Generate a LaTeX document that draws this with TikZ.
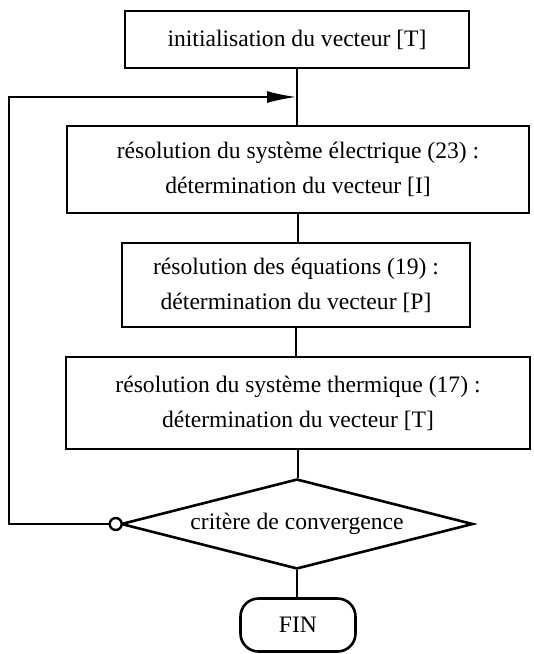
\documentclass[tikz,border=0pt]{standalone}
\usepackage{fontspec}
\setmainfont{Liberation Serif}
\usetikzlibrary{shapes.geometric,arrows.meta}
\begin{document}
\begin{tikzpicture}[x=1pt,y=-1pt,
  every node/.style={font=\fontsize{23.6}{35}\selectfont},
  stepbox/.style={draw,line width=2.6pt,rectangle,align=center,inner sep=0pt},
  conn/.style={line width=2.4pt},
  testbox/.style={draw,line width=2.6pt,diamond,aspect=3.9,inner sep=0pt,minimum width=352,minimum height=90},
  endbox/.style={draw,line width=2.6pt,rectangle,rounded corners=18pt,inner sep=0pt,minimum width=115,minimum height=53}]
\useasboundingbox (0,0) rectangle (534,654);
\node[stepbox,minimum width=344,minimum height=57] (b1) at (297,39.5) {initialisation du vecteur [T]};
\node[stepbox,minimum width=462,minimum height=87] (b2) at (298,169.5) {résolution du système électrique (23) :\\détermination du vecteur [I]};
\node[stepbox,minimum width=348,minimum height=84] (b3) at (296,285) {résolution des équations (19) :\\détermination du vecteur [P]};
\node[stepbox,minimum width=464,minimum height=92] (b4) at (298,403) {résolution du système thermique (17) :\\détermination du vecteur [T]};
\node[testbox] (d) at (297,524) {critère de convergence};
\node[endbox] (fin) at (298,625) {FIN};
\node[draw,circle,line width=2.4pt,fill=white,minimum size=12pt,inner sep=0pt] (c) at ([xshift=-4pt]d.west) {};
\coordinate (j) at (297,97);
\coordinate (tl) at (9,97);
\draw[conn] (b1.south) -- (b1.south |- b2.north);
\draw[conn] (b2.south) -- (b2.south |- b3.north);
\draw[conn] (b3.south) -- (b3.south |- b4.north);
\draw[conn] (b4.south) -- (b4.south |- d.north);
\draw[conn] (d.south) -- (d.south |- fin.north);
\draw[conn,-{Latex[length=30pt,width=12pt]}] (c.west) -- (c.west -| tl) -- (tl) -- (j);
\end{tikzpicture}
\end{document}
